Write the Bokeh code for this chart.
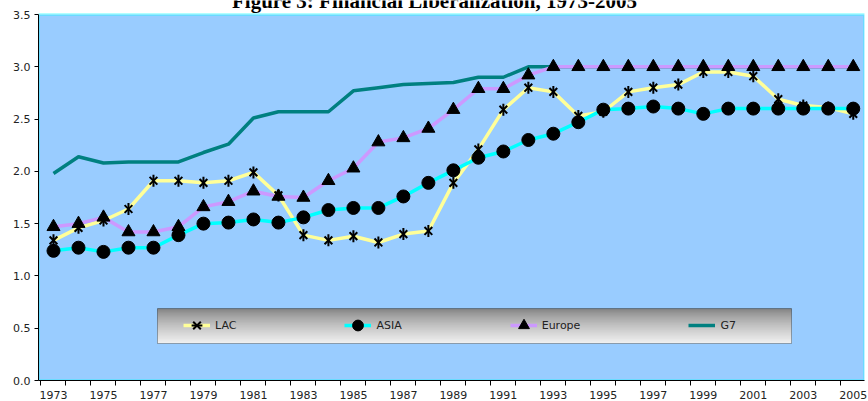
from bokeh.plotting import figure
from bokeh.models import (ColumnDataSource, FixedTicker, NumeralTickFormatter, Legend,
                          LegendItem, BoxAnnotation, Label, Range1d)
from bokeh.embed import file_html
from bokeh.resources import INLINE
import math

# ---------------- data ----------------
years = list(range(1973, 2006))
lac = [1.34, 1.46, 1.53, 1.64, 1.91, 1.91, 1.89, 1.91, 1.99, 1.77, 1.39, 1.34, 1.38, 1.32,
       1.40, 1.43, 1.89, 2.21, 2.59, 2.80, 2.76, 2.53, 2.57, 2.76, 2.80, 2.83, 2.95, 2.95,
       2.91, 2.69, 2.63, 2.61, 2.55]
asia = [1.24, 1.27, 1.23, 1.27, 1.27, 1.39, 1.50, 1.51, 1.54, 1.51, 1.56, 1.63, 1.65, 1.65,
        1.76, 1.89, 2.01, 2.13, 2.19, 2.30, 2.36, 2.47, 2.59, 2.60, 2.62, 2.60, 2.55, 2.60,
        2.60, 2.60, 2.60, 2.60, 2.60]
europe = [1.47, 1.50, 1.56, 1.42, 1.42, 1.47, 1.66, 1.71, 1.81, 1.76, 1.75, 1.91, 2.03, 2.28,
          2.32, 2.41, 2.59, 2.79, 2.79, 2.92, 3.00, 3.00, 3.00, 3.00, 3.00, 3.00, 3.00, 3.00,
          3.00, 3.00, 3.00, 3.00, 3.00]
g7 = [1.98, 2.14, 2.08, 2.09, 2.09, 2.09, 2.18, 2.26, 2.51, 2.57, 2.57, 2.57, 2.77, 2.80,
      2.83, 2.84, 2.85, 2.90, 2.90, 3.00, 3.00, 3.00, 3.00, 3.00, 3.00, 3.00, 3.00, 3.00,
      3.00, 3.00, 3.00, 3.00, 3.00]
series_names = ["LAC", "ASIA", "Europe", "G7"]
year_labels = [str(y) for y in range(1973, 2006, 2)]
y_ticks = [0.0, 0.5, 1.0, 1.5, 2.0, 2.5, 3.0, 3.5]
title_text = "Figure 3: Financial Liberalization, 1973-2005"

src = ColumnDataSource(dict(year=years, lac=lac, asia=asia, europe=europe, g7=g7))

# ---------------- layout ----------------
W, H = 868, 401
FL, FR, FB = 38, 864, 380      # frame edges (frame reaches the canvas top)
PT = 14                        # top of the blue plot area
X0, X1 = 1972.4, 2005.45
Y0, YTOP = 0.0, 3.5
Y1 = YTOP * (FB - 0) / (FB - PT)   # frame top value so 3.5 sits at PT

def px2x(px):
    return X0 + (px - FL) / (FR - FL) * (X1 - X0)

def py2y(py):
    return Y0 + (FB - py) / (FB - PT) * (YTOP - Y0)

p = figure(width=W, height=H, x_range=Range1d(X0, X1), y_range=Range1d(Y0, Y1),
           output_backend="svg", toolbar_location=None,
           min_border_left=FL, min_border_right=W - FR,
           min_border_top=0, min_border_bottom=H - FB)

p.background_fill_color = "white"
p.border_fill_color = "white"
p.outline_line_color = None
p.grid.visible = False

# plot area (blue) and its cyan border
p.add_layout(BoxAnnotation(left=X0, right=X1, bottom=Y0, top=YTOP,
                           fill_color="#99CCFF", fill_alpha=1.0, line_color=None,
                           level="underlay"))
p.add_layout(BoxAnnotation(left=X0, right=X1, bottom=Y0, top=YTOP,
                           fill_alpha=0, line_color="#00FFFF", line_width=3,
                           level="underlay"))

# axes
xa = p.xaxis[0]
xa.ticker = FixedTicker(ticks=[int(s) for s in year_labels],
                        minor_ticks=[y - 0.5 for y in years] + [years[-1] + 0.5])
xa.major_tick_line_color = None
xa.major_tick_out = 0
xa.major_tick_in = 0
xa.minor_tick_out = 5
xa.minor_tick_in = 0
xa.minor_tick_line_color = "black"
xa.axis_line_color = "black"
xa.major_label_standoff = 5
xa.major_label_text_font = "DejaVu Sans"
xa.major_label_text_font_size = "11px"
xa.major_label_text_color = "#222222"

ya = p.yaxis[0]
ya.ticker = FixedTicker(ticks=y_ticks, minor_ticks=[])
ya.formatter = NumeralTickFormatter(format="0.0")
ya.bounds = (Y0, YTOP)
ya.major_tick_out = 4
ya.major_tick_in = 0
ya.minor_tick_line_color = None
ya.axis_line_color = "black"
ya.major_label_standoff = 4
ya.major_label_text_font = "DejaVu Sans"
ya.major_label_text_font_size = "11px"
ya.major_label_text_color = "#222222"

# series
g7_line = p.line("year", "g7", source=src, color="#008080", line_width=3.5)

lac_line = p.line("year", "lac", source=src, color="#FFFF99", line_width=3.5)
lac_x = p.scatter("year", "lac", source=src, marker="x", size=11, line_color="black", line_width=2)
lac_v = p.scatter("year", "lac", source=src, marker="dash", size=12, angle=math.pi / 2,
                  line_color="black", line_width=2)

asia_line = p.line("year", "asia", source=src, color="#00FFFF", line_width=3.5)
asia_m = p.scatter("year", "asia", source=src, marker="circle", size=13,
                   fill_color="black", line_color="black")

eu_line = p.line("year", "europe", source=src, color="#CC99FF", line_width=3.5)
eu_m = p.scatter("year", "europe", source=src, marker="triangle", size=13,
                 fill_color="black", line_color="black")

# legend box with gradient
LB_L, LB_R, LB_T, LB_B = 157, 791, 308, 343
n = LB_B - LB_T
c_top, c_bot = 0x80, 0xF0
for i in range(n):
    t = (i / (n - 1)) ** 0.75
    c = int(round(c_top + (c_bot - c_top) * t))
    col = "#%02x%02x%02x" % (c, c, c)
    p.add_layout(BoxAnnotation(left=px2x(LB_L), right=px2x(LB_R),
                               top=py2y(LB_T + i), bottom=py2y(min(LB_T + i + 1.6, LB_B)),
                               fill_color=col, fill_alpha=1.0, line_color=None,
                               level="underlay"))
p.add_layout(BoxAnnotation(left=px2x(LB_L), right=px2x(LB_R), top=py2y(LB_T), bottom=py2y(LB_B),
                           fill_alpha=0, line_color="black", line_width=1, level="underlay"))

legend = Legend(items=[
    LegendItem(label=series_names[0], renderers=[lac_line, lac_x, lac_v]),
    LegendItem(label=series_names[1], renderers=[asia_line, asia_m]),
    LegendItem(label=series_names[2], renderers=[eu_line, eu_m]),
    LegendItem(label=series_names[3], renderers=[g7_line]),
], orientation="horizontal", location=(183 - FL, FB - 339),
    glyph_width=27, glyph_height=28, label_standoff=5, spacing=108,
    padding=0, margin=0, background_fill_alpha=0, border_line_alpha=0,
    label_text_font="DejaVu Sans", label_text_font_size="11px", label_text_color="#222222")
p.add_layout(legend)

# title (partly cut off at the top, as in the reference)
p.add_layout(Label(x=px2x(434), y=py2y(0), text=title_text, text_align="center",
                   text_baseline="alphabetic", text_font="Liberation Serif",
                   text_font_style="bold", text_font_size="21px", text_color="black",
                   level="overlay"))

open("out.html", "w").write(file_html(p, INLINE))
